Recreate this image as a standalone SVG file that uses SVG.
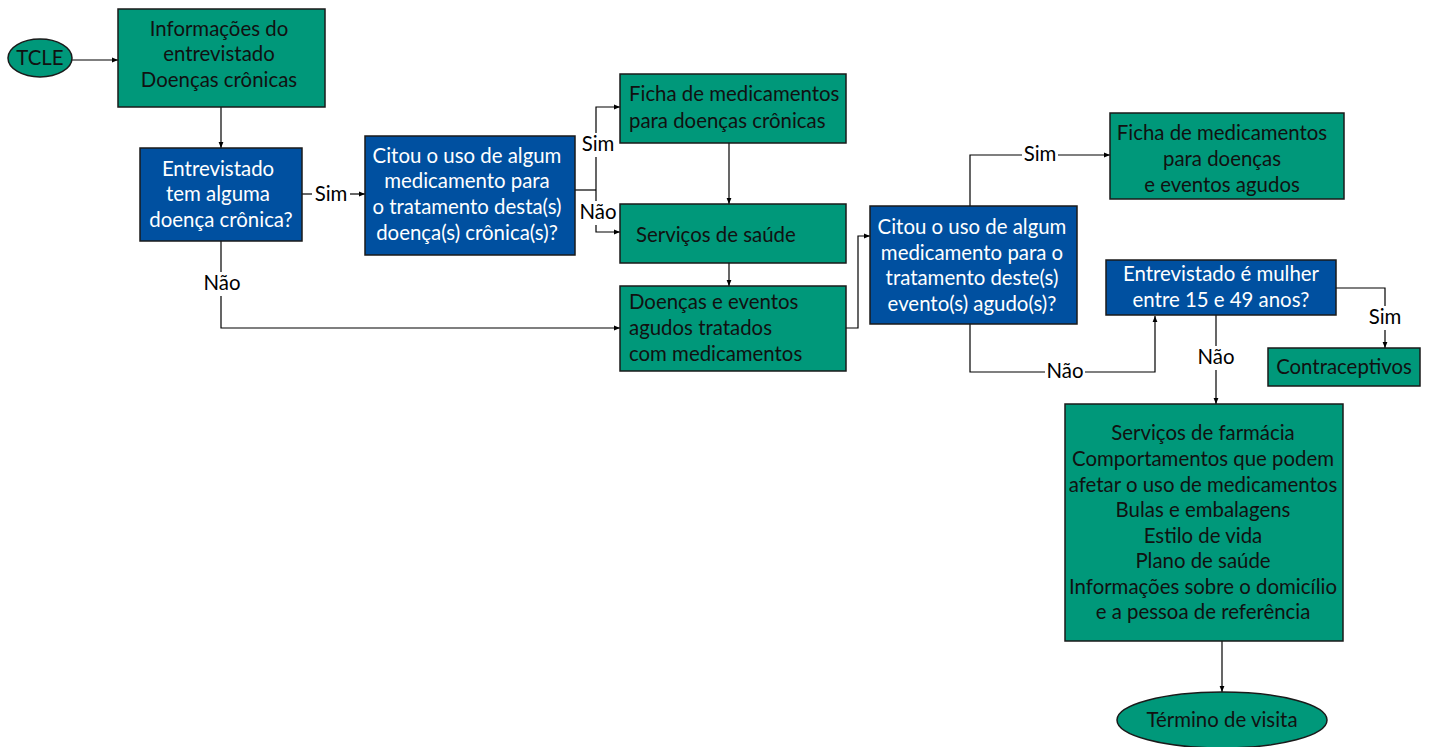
<svg xmlns="http://www.w3.org/2000/svg" width="1429" height="747" viewBox="0 0 1429 747">
<defs>
<marker id="ah" viewBox="0 0 10 10" refX="10" refY="5" markerWidth="6" markerHeight="6" markerUnits="userSpaceOnUse" orient="auto">
<path d="M0,1 L10,5 L0,9 z" fill="#000"/>
</marker>
<style>
.g{fill:#00987A;stroke:#1a1a1a;stroke-width:1.5}
.b{fill:#0050A0;stroke:#1a1a1a;stroke-width:1.5}
text{font-family:Lato,"Open Sans","Liberation Sans",sans-serif;font-size:20.4px}
.dk{fill:#111}
.wt{fill:#fff}
.c{text-anchor:middle}
.ln{fill:none;stroke:#000;stroke-width:1.2}
.lb{fill:#000;text-anchor:middle}
</style>
</defs>
<rect width="1429" height="747" fill="#fff"/>

<g id="connectors">
<path class="ln" d="M72,60 H118" marker-end="url(#ah)"/>
<path class="ln" d="M221,107 V148" marker-end="url(#ah)"/>
<path class="ln" d="M302,194 H312"/>
<path class="ln" d="M350,194 H365" marker-end="url(#ah)"/>
<path class="ln" d="M575,190 H596"/>
<path class="ln" d="M596,190 V107 H620" marker-end="url(#ah)"/>
<path class="ln" d="M596,190 V232 H620" marker-end="url(#ah)"/>
<path class="ln" d="M729,143 V204" marker-end="url(#ah)"/>
<path class="ln" d="M729,263 V286" marker-end="url(#ah)"/>
<path class="ln" d="M221,241 V328 H620" marker-end="url(#ah)"/>
<path class="ln" d="M846,328 H858 V236 H870" marker-end="url(#ah)"/>
<path class="ln" d="M970,206 V155 H1110" marker-end="url(#ah)"/>
<path class="ln" d="M970,324 V372 H1155 V316" marker-end="url(#ah)"/>
<path class="ln" d="M1336,288 H1385 V348" marker-end="url(#ah)"/>
<path class="ln" d="M1216,315 V404" marker-end="url(#ah)"/>
<path class="ln" d="M1222,641 V692" marker-end="url(#ah)"/>
<rect x="313" y="182" width="36" height="24" fill="#fff"/>
<text class="lb" x="331" y="201">Sim</text>
<rect x="582" y="133" width="32" height="24" fill="#fff"/>
<text class="lb" x="598" y="151">Sim</text>
<rect x="579" y="201" width="38" height="24" fill="#fff"/>
<text class="lb" x="598" y="219">Não</text>
<rect x="203" y="272" width="38" height="24" fill="#fff"/>
<text class="lb" x="222" y="290">Não</text>
<rect x="1022" y="143" width="36" height="24" fill="#fff"/>
<text class="lb" x="1040" y="161">Sim</text>
<rect x="1045" y="360" width="40" height="24" fill="#fff"/>
<text class="lb" x="1065" y="378">Não</text>
<rect x="1367" y="306" width="36" height="24" fill="#fff"/>
<text class="lb" x="1385" y="324">Sim</text>
<rect x="1197" y="346" width="38" height="24" fill="#fff"/>
<text class="lb" x="1216" y="364">Não</text>
</g>

<g id="tcle">
<ellipse class="g" cx="40" cy="58" rx="32" ry="19"/>
<text class="dk c" x="40" y="65">TCLE</text>
</g>

<g id="info">
<rect class="g" x="118" y="9" width="207" height="98"/>
<text class="dk c" x="219" y="36">Informações do</text>
<text class="dk c" x="219" y="61">entrevistado</text>
<text class="dk c" x="219" y="87">Doenças crônicas</text>
</g>

<g id="q1">
<rect class="b" x="140" y="148" width="162" height="93"/>
<text class="wt c" x="218" y="176">Entrevistado</text>
<text class="wt c" x="218" y="201">tem alguma</text>
<text class="wt c" x="221" y="227">doença crônica?</text>
</g>

<g id="q2">
<rect class="b" x="365" y="136" width="210" height="119"/>
<text class="wt c" x="467" y="163">Citou o uso de algum</text>
<text class="wt c" x="467" y="188">medicamento para</text>
<text class="wt c" x="467" y="214">o tratamento desta(s)</text>
<text class="wt c" x="467" y="240">doença(s) crônica(s)?</text>
</g>

<g id="ficha1">
<rect class="g" x="620" y="74" width="226" height="69"/>
<text class="dk" x="629" y="101">Ficha de medicamentos</text>
<text class="dk" x="629" y="128">para doenças crônicas</text>
</g>

<g id="servicos">
<rect class="g" x="620" y="204" width="226" height="59"/>
<text class="dk" x="636" y="242">Serviços de saúde</text>
</g>

<g id="doencas">
<rect class="g" x="620" y="286" width="226" height="85"/>
<text class="dk" x="629" y="309">Doenças e eventos</text>
<text class="dk" x="629" y="335">agudos tratados</text>
<text class="dk" x="629" y="361">com medicamentos</text>
</g>

<g id="q3">
<rect class="b" x="870" y="206" width="207" height="118"/>
<text class="wt c" x="972" y="234">Citou o uso de algum</text>
<text class="wt c" x="972" y="260">medicamento para o</text>
<text class="wt c" x="972" y="285">tratamento deste(s)</text>
<text class="wt c" x="972" y="311">evento(s) agudo(s)?</text>
</g>

<g id="ficha2">
<rect class="g" x="1110" y="113" width="234" height="86"/>
<text class="dk c" x="1222" y="140">Ficha de medicamentos</text>
<text class="dk c" x="1222" y="166">para doenças</text>
<text class="dk c" x="1222" y="192">e eventos agudos</text>
</g>

<g id="q4">
<rect class="b" x="1106" y="260" width="230" height="55"/>
<text class="wt c" x="1221" y="281">Entrevistado é mulher</text>
<text class="wt c" x="1221" y="307">entre 15 e 49 anos?</text>
</g>

<g id="contraceptivos">
<rect class="g" x="1268" y="348" width="152" height="38"/>
<text class="dk c" x="1344" y="374">Contraceptivos</text>
</g>

<g id="farmacia">
<rect class="g" x="1065" y="404" width="278" height="237"/>
<text class="dk c" x="1203" y="440">Serviços de farmácia</text>
<text class="dk c" x="1203" y="466">Comportamentos que podem</text>
<text class="dk c" x="1203" y="492">afetar o uso de medicamentos</text>
<text class="dk c" x="1203" y="517">Bulas e embalagens</text>
<text class="dk c" x="1203" y="543">Estilo de vida</text>
<text class="dk c" x="1203" y="568">Plano de saúde</text>
<text class="dk c" x="1203" y="594">Informações sobre o domicílio</text>
<text class="dk c" x="1203" y="619">e a pessoa de referência</text>
</g>

<g id="termino">
<ellipse class="g" cx="1222" cy="720" rx="105" ry="28"/>
<text class="dk c" x="1222" y="727">Término de visita</text>
</g>
</svg>
